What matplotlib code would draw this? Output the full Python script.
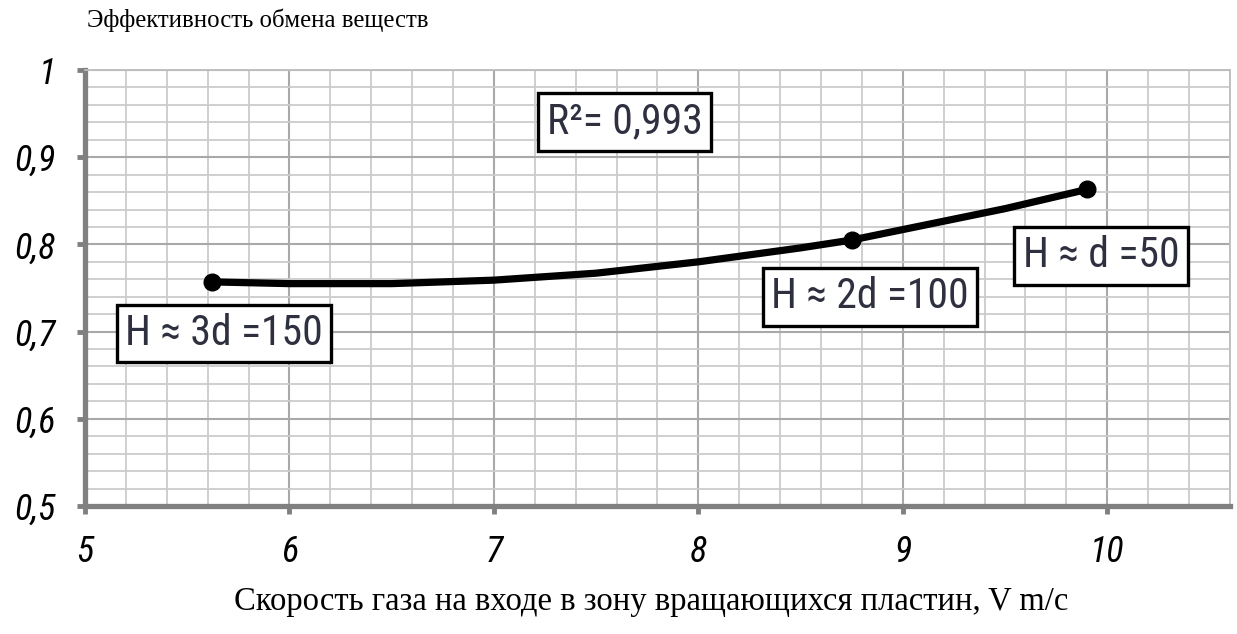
import matplotlib
matplotlib.use("Agg")
import matplotlib.pyplot as plt
from matplotlib import font_manager
from matplotlib.ticker import MultipleLocator, FixedLocator, FixedFormatter

# =========================
# ДАННЫЕ
# =========================
# точки эксперимента
v_points = [5.62, 8.75, 9.90]
eff_points = [0.757, 0.805, 0.863]

# линия тренда
v_curve = [5.62, 6.0, 6.5, 7.0, 7.5, 8.0, 8.5, 8.75, 9.0, 9.5, 9.90]
eff_curve = [0.757, 0.755, 0.755, 0.759, 0.767, 0.780, 0.796, 0.805, 0.817, 0.841, 0.863]

x_ticks = [5, 6, 7, 8, 9, 10]
x_labels = ["5", "6", "7", "8", "9", "10"]
y_ticks = [0.5, 0.6, 0.7, 0.8, 0.9, 1.0]
y_labels = ["0,5", "0,6", "0,7", "0,8", "0,9", "1"]

labels = ["H ≈ 3d =150", "H ≈ 2d =100", "H ≈ d =50"]
r2_text = "R²= 0,993"

# =========================
# ШРИФТЫ
# =========================
names = {f.name for f in font_manager.fontManager.ttflist}
narrow = "DejaVu Sans"
for cand in ["Roboto Condensed", "Liberation Sans Narrow", "Roboto"]:
    if cand in names:
        narrow = cand
        break

# =========================
# ГРАФИК
# =========================
fig = plt.figure(figsize=(12.37, 6.34), dpi=100)
ax = fig.add_axes([0.0687, 0.2019, 0.9256, 0.6877])

ax.set_xlim(5, 10.6)
ax.set_ylim(0.5, 1.0)

ax.xaxis.set_major_locator(FixedLocator(x_ticks))
ax.xaxis.set_major_formatter(FixedFormatter(x_labels))
ax.yaxis.set_major_locator(FixedLocator(y_ticks))
ax.yaxis.set_major_formatter(FixedFormatter(y_labels))
ax.xaxis.set_minor_locator(MultipleLocator(0.2))
ax.yaxis.set_minor_locator(MultipleLocator(0.02))

ax.grid(which="minor", color="#cbcbcb", linewidth=1.3)
ax.grid(which="major", color="#a9a9a9", linewidth=1.5)
ax.set_axisbelow(True)

for s in ["left", "bottom"]:
    ax.spines[s].set_color("#808080")
    ax.spines[s].set_linewidth(3.8)
for s in ["top", "right"]:
    ax.spines[s].set_color("#bdbdbd")
    ax.spines[s].set_linewidth(1.3)

ax.tick_params(which="major", direction="out", length=6, width=3.5,
               color="#808080")
ax.tick_params(which="minor", length=0)
ax.tick_params(axis="x", pad=14)
ax.tick_params(axis="y", pad=15)
for lab in ax.get_xticklabels() + ax.get_yticklabels():
    lab.set_fontsize(26)
    lab.set_style("italic")
    lab.set_fontfamily(narrow)

ax.plot(v_curve, eff_curve, color="black", linewidth=5.2,
        solid_capstyle="round", zorder=3)
ax.plot(v_points, eff_points, "o", color="black", markersize=12, zorder=4)

box = dict(boxstyle="square,pad=0.2", facecolor="white",
           edgecolor="black", linewidth=2.4)
text_pos = [(5.68, 0.698), (8.84, 0.740), (9.97, 0.787)]
for t, (x, y) in zip(labels, text_pos):
    ax.text(x, y, t, fontsize=30, color="#2e3040", ha="center", va="center",
            bbox=box, zorder=5, family=narrow)
ax.text(7.64, 0.940, r2_text, fontsize=30, color="#2e3040", ha="center",
        va="center", bbox=box, zorder=5, family=narrow)

fig.text(0.0703, 1 - 20 / 634, "Эффективность обмена веществ",
         fontsize=17.8, family="Liberation Serif", ha="left", va="center")
fig.text(651 / 1237, 1 - 602 / 634,
         "Скорость газа на входе в зону вращающихся пластин, V m/c",
         fontsize=23.5, family="Liberation Serif", ha="center", va="center")

fig.savefig("out.png", dpi=100)
